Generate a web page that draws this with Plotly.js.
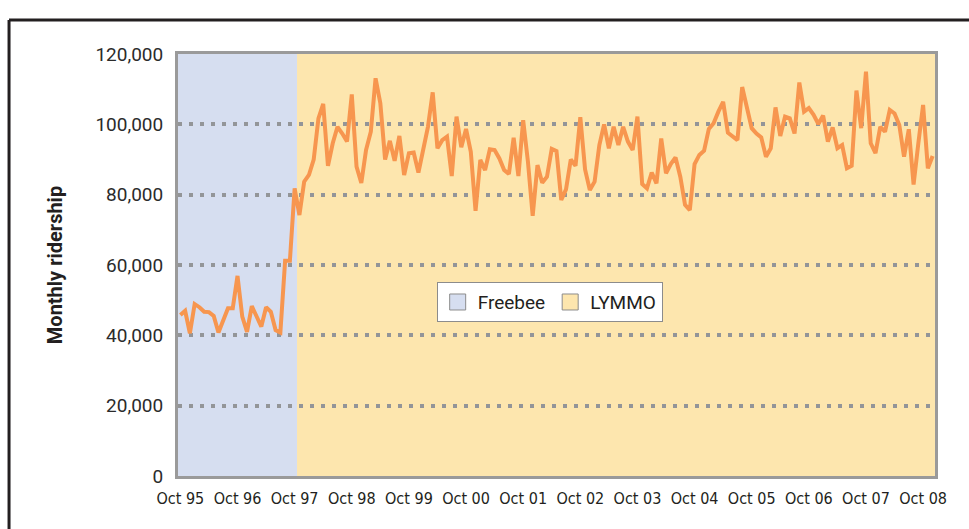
<!DOCTYPE html>
<html>
<head>
<meta charset="utf-8">
<script src="https://cdn.plot.ly/plotly-3.0.1.min.js"></script>
<style>
  html, body { margin: 0; padding: 0; background: #ffffff; }
  #chart { width: 969px; height: 529px; }
</style>
</head>
<body>
<div id="chart"></div>
<script>
// Monthly ridership, Oct 95 (index 0) to Dec 08 (index 158)
const ridership = [
  45800, 47000, 40600, 48900, 48000, 46700, 46600, 45500, 40800, 44400, 47700, 47700,
  56900, 45300, 41000, 48300, 45500, 42500, 48000, 46700, 41500, 40800, 61200, 61200,
  81800, 74200, 83700, 85600, 90000, 101700, 105800, 88200, 94600, 99300, 97400, 95100,
  108500, 88000, 83300, 92700, 97900, 113100, 106000, 90000, 95300, 89600, 96700, 85600,
  91800, 92000, 86300, 92700, 99300, 109100, 93200, 95500, 96500, 85300, 102200, 93500,
  98700, 92200, 75400, 89900, 87000, 92900, 92700, 90300, 87000, 85900, 96200, 85300,
  101200, 89400, 74000, 88400, 83400, 85100, 93000, 92400, 78500, 81500, 90000, 88200,
  102000, 87200, 81300, 83700, 94100, 100000, 93200, 99300, 94100, 99300, 95100, 92700,
  102200, 83000, 81800, 86300, 83200, 96000, 86100, 88700, 90600, 85100, 77100, 75600,
  88700, 91300, 92500, 98700, 100300, 103600, 106400, 97600, 96500, 95500, 110600, 104800,
  98900, 97400, 96300, 90800, 93200, 104800, 96700, 102200, 101700, 97400, 111900, 103600,
  104600, 102700, 100100, 102500, 95100, 99100, 93200, 94100, 87500, 88200, 109600, 98900,
  115000, 94600, 91800, 99300, 97900, 104100, 103100, 99800, 90800, 98600, 82900, 94600,
  105500, 87500, 91000
];

const tickLabels = ["Oct 95","Oct 96","Oct 97","Oct 98","Oct 99","Oct 00","Oct 01",
                    "Oct 02","Oct 03","Oct 04","Oct 05","Oct 06","Oct 07","Oct 08"];

// Service periods (first and last month index)
const periodNames = ["Freebee", "LYMMO"];
const periodFirst = [0, 25];
const periodLast = [24, 158];
const periodColors = ["#d6def0", "#fde6ae"];

const months = ridership.map((v, i) => i);
const tickVals = tickLabels.map((t, i) => i * 12);

const traces = [];
periodNames.forEach((n, k) => {
  traces.push({
    type: "scatter", mode: "markers", x: [null], y: [null], name: n,
    marker: { symbol: "square", size: 20, color: periodColors[k], line: { color: "#8c8c8c", width: 1 } },
    hoverinfo: "skip", showlegend: true
  });
});
traces.push({
  type: "scatter", mode: "lines", x: months, y: ridership, name: "Ridership",
  line: { color: "#f7964f", width: 4 }, showlegend: false
});

const shapes = periodNames.map((n, k) => ({
  type: "rect", layer: "below", xref: "x", yref: "paper",
  x0: periodFirst[k] - 0.5, x1: periodLast[k] + 0.5, y0: 0, y1: 1,
  fillcolor: periodColors[k], line: { width: 0 }
}));
// outer frame
shapes.push({ type: "line", xref: "paper", yref: "paper", x0: -0.2232, x1: 1.06, y0: 1.0806, y1: 1.0806,
  line: { color: "#231f20", width: 3 } });
shapes.push({ type: "line", xref: "paper", yref: "paper", x0: -0.2232, x1: -0.2232, y0: 1.0806, y1: -0.14,
  line: { color: "#231f20", width: 3 } });

const layout = {
  width: 969, height: 529,
  margin: { l: 178, r: 34, t: 54, b: 53 },
  paper_bgcolor: "#ffffff", plot_bgcolor: "rgba(0,0,0,0)",
  showlegend: true,
  legend: {
    orientation: "h", x: 0.491, y: 0.412, xanchor: "center", yanchor: "middle",
    bgcolor: "#ffffff", bordercolor: "#8c8c8c", borderwidth: 1,
    font: { family: "Roboto, 'DejaVu Sans', sans-serif", size: 19, color: "#231f20" },
    itemsizing: "trace"
  },
  xaxis: {
    range: [-0.5, 158.5], tickvals: tickVals, ticktext: tickLabels,
    showgrid: false, zeroline: false,
    showline: true, mirror: true, linecolor: "#9a9a9a", linewidth: 3,
    ticks: "outside", ticklen: 6, tickcolor: "rgba(0,0,0,0)",
    tickfont: { family: "'Liberation Sans Narrow', 'DejaVu Sans Condensed', Roboto, sans-serif", size: 16, color: "#231f20" },
    fixedrange: true
  },
  yaxis: {
    range: [0, 120000], dtick: 20000, tickformat: ",d",
    showgrid: true, gridcolor: "#939598", gridwidth: 4, griddash: "4px,7px",
    zeroline: false,
    showline: true, mirror: true, linecolor: "#9a9a9a", linewidth: 3,
    ticks: "outside", ticklen: 8, tickcolor: "rgba(0,0,0,0)",
    tickfont: { family: "Roboto, 'DejaVu Sans', sans-serif", size: 19, color: "#2b2b2b" },
    title: { text: "<b>Monthly ridership</b>", standoff: 28,
      font: { family: "Roboto, 'DejaVu Sans', sans-serif", size: 20, color: "#231f20" } },
    fixedrange: true
  },
  shapes: shapes
};

Plotly.newPlot("chart", traces, layout, { displayModeBar: false, staticPlot: true });
</script>
</body>
</html>
